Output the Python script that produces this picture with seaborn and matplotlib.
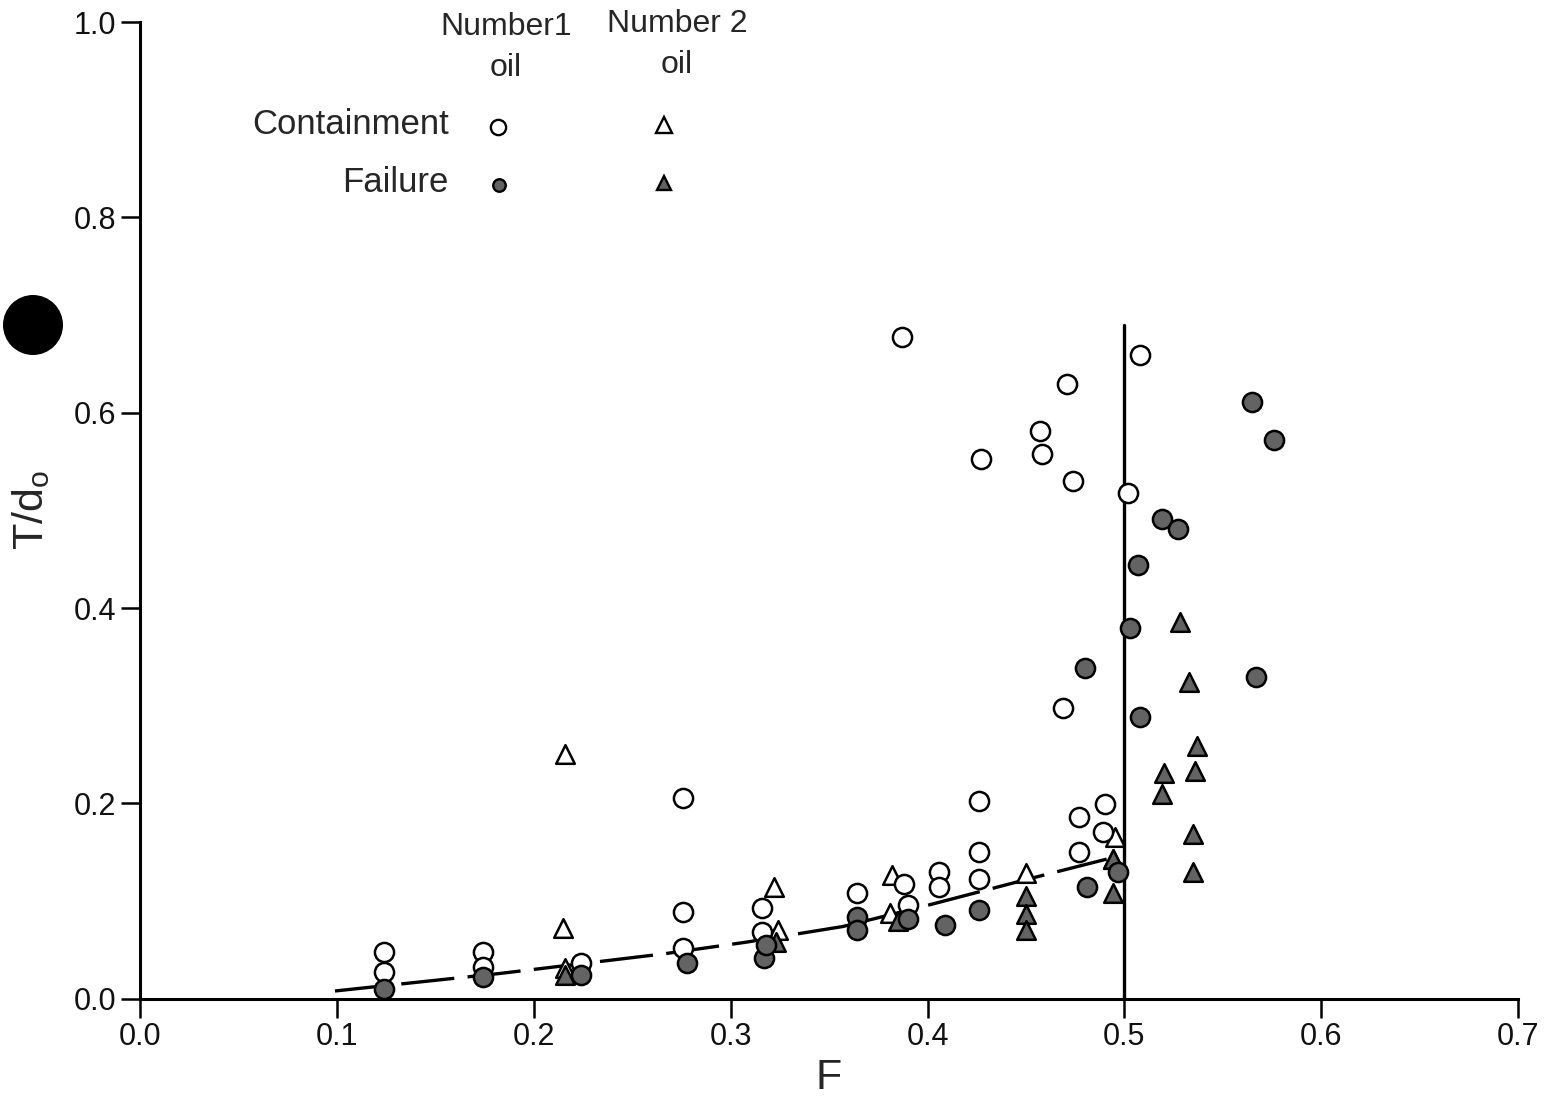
import pandas as pd
import matplotlib.pyplot as plt
import seaborn as sns
from matplotlib.lines import Line2D
from matplotlib.patches import Ellipse

# Number 1 oil, containment (open circles)
c1_F = [0.124, 0.124, 0.174, 0.174, 0.224, 0.276, 0.276, 0.276, 0.316, 0.316,
        0.364, 0.387, 0.388, 0.390, 0.406, 0.406, 0.427, 0.426, 0.426, 0.426,
        0.457, 0.458, 0.471, 0.474, 0.469, 0.477, 0.477, 0.490, 0.489, 0.508, 0.502]
c1_T = [0.048, 0.027, 0.048, 0.033, 0.037, 0.206, 0.089, 0.052, 0.093, 0.068,
        0.108, 0.678, 0.118, 0.096, 0.130, 0.114, 0.553, 0.202, 0.150, 0.123,
        0.581, 0.558, 0.629, 0.530, 0.298, 0.186, 0.150, 0.199, 0.171, 0.659, 0.518]

# Number 1 oil, failure (filled circles)
f1_F = [0.124, 0.174, 0.224, 0.278, 0.317, 0.318, 0.364, 0.364, 0.390, 0.409,
        0.426, 0.481, 0.497, 0.480, 0.507, 0.503, 0.508, 0.519, 0.527, 0.565,
        0.576, 0.567]
f1_T = [0.010, 0.022, 0.024, 0.037, 0.042, 0.055, 0.084, 0.070, 0.082, 0.076,
        0.091, 0.114, 0.130, 0.339, 0.444, 0.380, 0.288, 0.491, 0.481, 0.611,
        0.572, 0.329]

# Number 2 oil, containment (open triangles)
c2_F = [0.216, 0.215, 0.216, 0.322, 0.324, 0.382, 0.381, 0.450, 0.495, 0.494]
c2_T = [0.251, 0.072, 0.032, 0.114, 0.070, 0.127, 0.088, 0.129, 0.166, 0.143]

# Number 2 oil, failure (filled triangles)
f2_F = [0.216, 0.323, 0.385, 0.450, 0.450, 0.450, 0.494, 0.494, 0.520, 0.519,
        0.528, 0.533, 0.537, 0.536, 0.535, 0.535]
f2_T = [0.024, 0.058, 0.080, 0.105, 0.087, 0.070, 0.143, 0.108, 0.231, 0.210,
        0.386, 0.324, 0.259, 0.233, 0.169, 0.130]

# dashed trend curve
trend_F = [0.099, 0.183, 0.266, 0.308, 0.357, 0.393, 0.450, 0.491]
trend_T = [0.008, 0.026, 0.046, 0.058, 0.074, 0.092, 0.122, 0.143]

# vertical limit line
limit_F = 0.5
limit_top = 0.69

frames = []
for F, T, oil, res in [(c1_F, c1_T, 'Number1 oil', 'Containment'),
                       (f1_F, f1_T, 'Number1 oil', 'Failure'),
                       (c2_F, c2_T, 'Number 2 oil', 'Containment'),
                       (f2_F, f2_T, 'Number 2 oil', 'Failure')]:
    frames.append(pd.DataFrame({'F': F, 'T': T, 'oil': oil, 'result': res}))
df = pd.concat(frames, ignore_index=True)

sns.set_style('ticks')
plt.rcParams['font.family'] = ['Liberation Sans', 'DejaVu Sans']

fig = plt.figure(figsize=(15.58, 11), dpi=100)
ax = fig.add_axes([0.0899, 0.092, 0.8845, 0.888])

markers = {'Number1 oil': 'o', 'Number 2 oil': '^'}
fills = {'Containment': 'white', 'Failure': '#636363'}
sizes = {'Number1 oil': 190, 'Number 2 oil': 180}

ax.plot(trend_F, trend_T, color='black', lw=2.4, linestyle=(0, (16, 4)), zorder=1)
ax.plot([limit_F, limit_F], [0, limit_top], color='black', lw=2.4, zorder=1)

for (oil, res), sub in df.groupby(['oil', 'result']):
    sns.scatterplot(data=sub, x='F', y='T', ax=ax, marker=markers[oil],
                    s=sizes[oil], facecolor=fills[res], edgecolor='black',
                    linewidth=1.8, zorder=3, legend=False)

ax.set_xlim(0, 0.7)
ax.set_ylim(0, 1.0)
ax.set_xticks([0.0, 0.1, 0.2, 0.3, 0.4, 0.5, 0.6, 0.7])
ax.set_yticks([0.0, 0.2, 0.4, 0.6, 0.8, 1.0])
ax.set_xticklabels(['0.0', '0.1', '0.2', '0.3', '0.4', '0.5', '0.6', '0.7'])
ax.set_yticklabels(['0.0', '0.2', '0.4', '0.6', '0.8', '1.0'])
ax.tick_params(axis='both', labelsize=22, length=14, width=1.8, color='black',
               labelcolor='#111111')
ax.tick_params(axis='y', pad=3)
ax.tick_params(axis='x', pad=3)
ax.set_xlabel('F', fontsize=31, labelpad=4)
ax.set_ylabel('T/d$_\\mathregular{o}$', fontsize=31)
ax.yaxis.set_label_coords(-0.064, 0.50)
sns.despine(ax=ax)
for side in ['left', 'bottom']:
    ax.spines[side].set_linewidth(2.2)
    ax.spines[side].set_color('black')

# legend table in the upper part of the plot
ax.text(0.2655, 0.974, 'Number1\noil', transform=ax.transAxes, ha='center',
        va='center', fontsize=23, linespacing=1.45)
ax.text(0.3895, 0.977, 'Number 2\noil', transform=ax.transAxes, ha='center',
        va='center', fontsize=23, linespacing=1.45)
ax.text(0.224, 0.8947, 'Containment', transform=ax.transAxes, ha='right',
        va='center', fontsize=25)
ax.text(0.224, 0.8354, 'Failure', transform=ax.transAxes, ha='right',
        va='center', fontsize=25)
for mk, fc, lx, ly, ms in [('o', 'white', 0.2595, 0.893, 11),
                           ('^', 'white', 0.3805, 0.895, 11),
                           ('o', '#636363', 0.2605, 0.833, 9),
                           ('^', '#636363', 0.3805, 0.835, 10)]:
    ax.add_line(Line2D([lx], [ly], transform=ax.transAxes, marker=mk,
                       markersize=ms, markerfacecolor=fc, markeredgecolor='black',
                       markeredgewidth=1.7, linestyle='none', clip_on=False))

# dark hole punch mark on the scanned page
fig.patches.append(Ellipse((33 / 1558, 1 - 325 / 1100), 60 / 1558, 60 / 1100,
                           transform=fig.transFigure, facecolor='black',
                           edgecolor='none'))

fig.savefig('out.png', dpi=100)
